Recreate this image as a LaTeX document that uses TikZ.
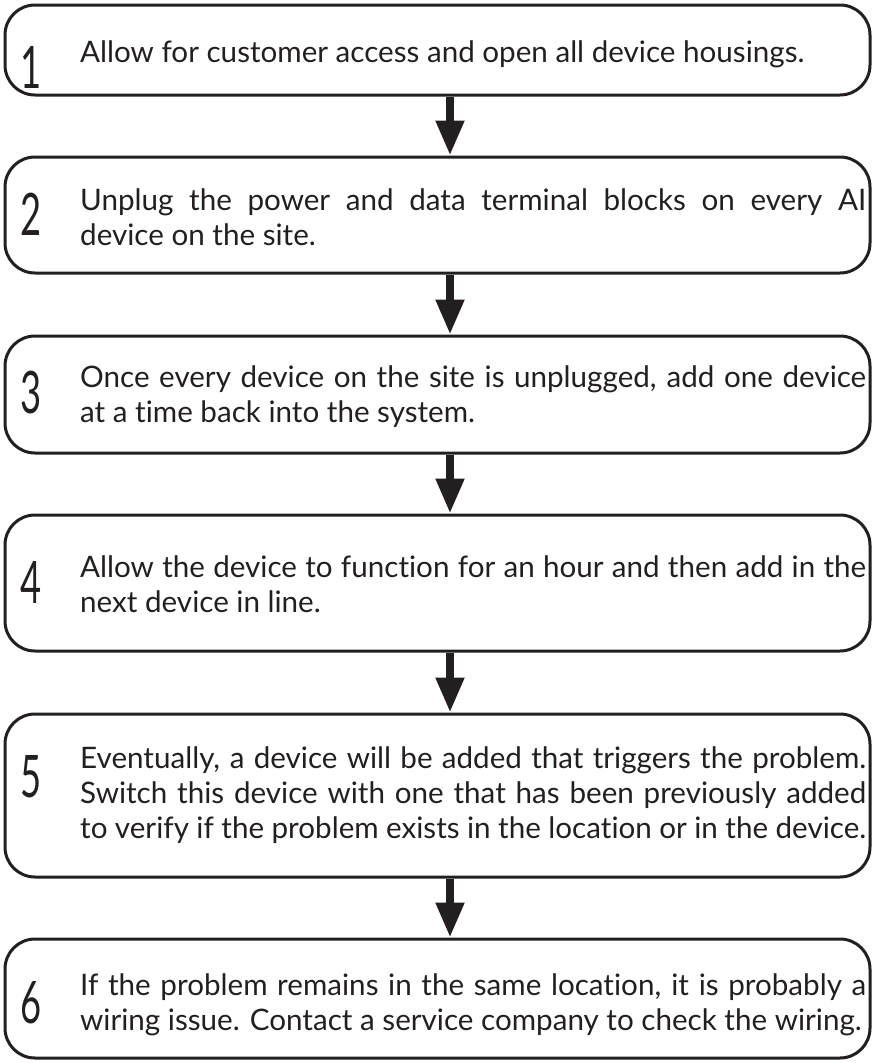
\documentclass[tikz,border=0pt]{standalone}
\usepackage{fontspec}
\setmainfont{Lato}[Ligatures=CommonOff]
\newfontfamily\digitfont{Lato}[FakeStretch=0.62]
\usetikzlibrary{arrows.meta}
\definecolor{ink}{HTML}{231F20}
\newcommand{\steptext}[1]{\begin{minipage}[t]{786pt}\fontsize{29.6}{35}\selectfont
  \hyphenpenalty=10000 \tolerance=9999 \emergencystretch=20pt #1\end{minipage}}
\begin{document}
\begin{tikzpicture}[x=1pt,y=-1pt,
  box/.style={draw=ink, line width=3pt, rounded corners=30pt, minimum width=865pt, inner sep=0pt},
  txt/.style={anchor=base west, inner sep=0pt, text=ink},
  num/.style={anchor=base west, inner sep=0pt, font=\digitfont\fontsize{58.6}{60}\selectfont, text=ink},
  flow/.style={draw=ink, line width=8pt, -{Triangle[width=27pt,length=35pt]}}]
\useasboundingbox (0,0) rectangle (873,1063);
\coordinate (ax) at (450,0);

\node[box, minimum height=90pt]  (b1) at (437.5,50) {};
\node[box, minimum height=116pt] (b2) at (437.5,215) {};
\node[box, minimum height=117pt] (b3) at (437.5,394.5) {};
\node[box, minimum height=136pt] (b4) at (437.5,583) {};
\node[box, minimum height=163pt] (b5) at (437.5,795.5) {};
\node[box, minimum height=119pt] (b6) at (437.5,998.5) {};

\node[num] (n1) at (20,88) {1};
\node[num] (n2) at (20,235) {2};
\node[num] (n3) at (20,413) {3};
\node[num] (n4) at (20,603) {4};
\node[num] (n5) at (20,797) {5};
\node[num] (n6) at (20,1023) {6};

\node[txt] (t1) at (80,62) {\steptext{Allow for customer access and open all device housings.}};
\node[txt] (t2) at (80,210) {\steptext{Unplug the power and data terminal blocks on every AI\linebreak device on the site.}};
\node[txt] (t3) at (80,387) {\steptext{Once every device on the site is unplugged, add one device\linebreak at a time back into the system.}};
\node[txt] (t4) at (80,577) {\steptext{Allow the device to function for an hour and then add in the\linebreak next device in line.}};
\node[txt] (t5) at (80,768) {\steptext{Eventually, a device will be added that triggers the problem.\linebreak Switch this device with one that has been previously added\linebreak to verify if the problem exists in the location or in the device.}};
\node[txt] (t6) at (80,995) {\steptext{If the problem remains in the same location, it is probably a\linebreak wiring issue. Contact a service company to check the wiring.}};

\draw[flow] (b1.south -| ax) -- (b2.north -| ax);
\draw[flow] (b2.south -| ax) -- (b3.north -| ax);
\draw[flow] (b3.south -| ax) -- (b4.north -| ax);
\draw[flow] (b4.south -| ax) -- (b5.north -| ax);
\draw[flow] (b5.south -| ax) -- (b6.north -| ax);
\end{tikzpicture}
\end{document}
